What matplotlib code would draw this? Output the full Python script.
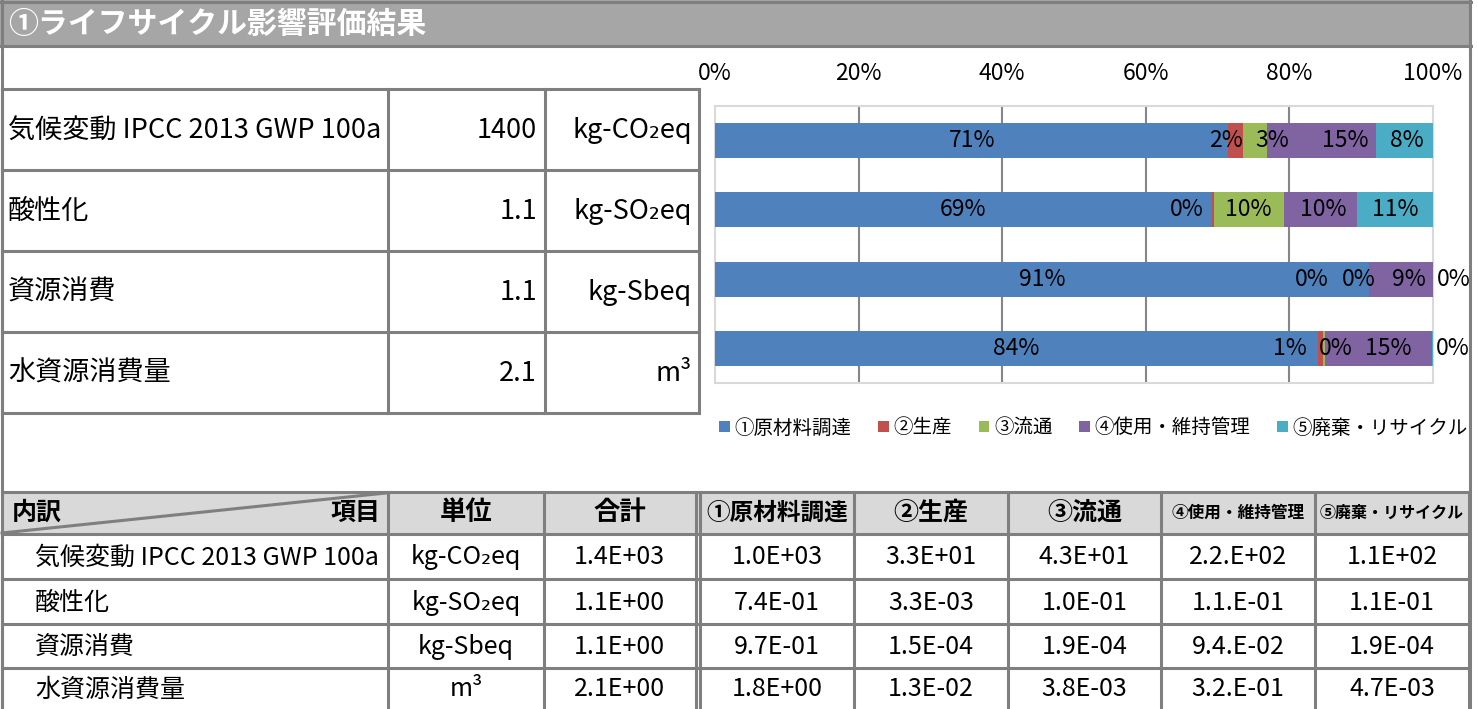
import numpy as np
import matplotlib
matplotlib.use('Agg')
import matplotlib.pyplot as plt
from matplotlib.patches import Rectangle

plt.rcParams['font.family'] = ['Noto Sans CJK JP', 'DejaVu Sans']

#   DATA
title = '①ライフサイクル影響評価結果'
categories = ['気候変動 IPCC 2013 GWP 100a', '酸性化', '資源消費', '水資源消費量']
totals_short = ['1400', '1.1', '1.1', '2.1']
units = ['kg-CO₂eq', 'kg-SO₂eq', 'kg-Sbeq', 'm³']
stages = ['①原材料調達', '②生産', '③流通', '④使用・維持管理', '⑤廃棄・リサイクル']

# share of each stage per category (%)
shares = np.array([
    [71.4, 2.2, 3.3, 15.1, 8.0],
    [69.2, 0.3, 9.8, 10.1, 10.6],
    [91.1, 0.02, 0.02, 8.84, 0.02],
    [84.0, 0.7, 0.2, 14.9, 0.2],
])

# breakdown table
table_head = ['内訳', '項目', '単位', '合計']
totals_sci = ['1.4E+03', '1.1E+00', '1.1E+00', '2.1E+00']
breakdown = [
    ['1.0E+03', '3.3E+01', '4.3E+01', '2.2.E+02', '1.1E+02'],
    ['7.4E-01', '3.3E-03', '1.0E-01', '1.1.E-01', '1.1E-01'],
    ['9.7E-01', '1.5E-04', '1.9E-04', '9.4.E-02', '1.9E-04'],
    ['1.8E+00', '1.3E-02', '3.8E-03', '3.2.E-01', '4.7E-03'],
]

#   STYLE / LAYOUT
W, H = 1478, 709
colors = ['#4F81BD', '#C0504D', '#9BBB59', '#8064A2', '#4BACC6']
line_c = '#7f7f7f'
lw = 2.2
# label nudges from segment centres, in % of axis
label_nudge = [
    [0.1, -1.4, 2.35, 3.35, 0.4],
    [0.0, -3.65, -0.1, 0.35, 0.0],
    [0.0, -8.0, -1.5, 1.1, 2.9],
    [0.0, -4.35, 1.6, 1.35, 2.9],
]

fig = plt.figure(figsize=(W / 100, H / 100), dpi=100)
ax = fig.add_axes([0, 0, 1, 1])
ax.set_xlim(0, W)
ax.set_ylim(H, 0)
ax.axis('off')

#   HEADER BAR
ax.add_patch(Rectangle((0, 0), 1471, 46, facecolor='#a6a6a6', edgecolor='none'))
ax.plot([0, 1471], [1.5, 1.5], color=line_c, lw=lw)
ax.plot([0, 1471], [45.5, 45.5], color=line_c, lw=lw)
ax.text(8, 24, title, color='white', fontsize=21.5, fontweight='bold', ha='left', va='center')

# outer frame
ax.plot([1.5, 1.5], [0, H], color=line_c, lw=lw)
ax.plot([1470, 1470], [0, H], color=line_c, lw=lw)

#   TOP TABLE
tx = [1.5, 388, 545, 698.5]
ty = [89, 170, 251, 332, 413]
for x in tx:
    ax.plot([x, x], [ty[0], ty[-1]], color=line_c, lw=lw)
for y in ty:
    ax.plot([tx[0], tx[-1]], [y, y], color=line_c, lw=lw)
for i, cat in enumerate(categories):
    yc = (ty[i] + ty[i + 1]) / 2 + 1
    ax.text(8, yc, cat, fontsize=19.5, ha='left', va='center')
    ax.text(537, yc, totals_short[i], fontsize=19.5, ha='right', va='center')
    ax.text(692, yc, units[i], fontsize=19.5, ha='right', va='center')

#   BOTTOM TABLE
bx = [1.5, 388, 544, 700, 854, 1008, 1161, 1315, 1469]
by = [492, 534, 579, 624, 668, 712]
ax.add_patch(Rectangle((bx[0], by[0]), bx[-1] - bx[0], by[1] - by[0],
                       facecolor='#d9d9d9', edgecolor='none'))
for x in bx:
    ax.plot([x, x], [by[0], H], color=line_c, lw=lw)
ax.plot([695.5, 695.5], [by[0], H], color=line_c, lw=lw)
for y in by[:-1]:
    ax.plot([bx[0], bx[-1]], [y, y], color=line_c, lw=lw)
ax.plot([2, 386], [533, 493], color=line_c, lw=lw)

hy = (by[0] + by[1]) / 2
ax.text(12, hy, table_head[0], fontsize=18, fontweight='bold', ha='left', va='center')
ax.text(381, hy, table_head[1], fontsize=18, fontweight='bold', ha='right', va='center')
ax.text((bx[1] + bx[2]) / 2, hy, table_head[2], fontsize=19, fontweight='bold', ha='center', va='center')
ax.text((bx[2] + 695.5) / 2, hy, table_head[3], fontsize=19, fontweight='bold', ha='center', va='center')
head_sizes = [17, 18, 18, 12, 11.5]
for j, st in enumerate(stages):
    ax.text((bx[3 + j] + bx[4 + j]) / 2, hy, st, fontsize=head_sizes[j],
            fontweight='bold', ha='center', va='center')

for i, cat in enumerate(categories):
    yc = (by[i + 1] + min(by[i + 2], H)) / 2 + 1
    ax.text(35, yc, cat, fontsize=18, ha='left', va='center')
    ax.text((bx[1] + bx[2]) / 2, yc, units[i], fontsize=18, ha='center', va='center')
    ax.text((bx[2] + 695.5) / 2, yc, totals_sci[i], fontsize=18, ha='center', va='center')
    for j, v in enumerate(breakdown[i]):
        ax.text((bx[3 + j] + bx[4 + j]) / 2, yc, v, fontsize=18, ha='center', va='center')

#   STACKED BAR CHART
axb = fig.add_axes([715 / W, 1 - 383 / H, 718 / W, 277 / H])
ypos = np.arange(len(categories))
left = np.zeros(len(categories))
handles = []
for j, st in enumerate(stages):
    h = axb.barh(ypos, shares[:, j], left=left, height=0.505, color=colors[j],
                 label=st, zorder=3)
    handles.append(h)
    for i in range(len(categories)):
        xc = left[i] + shares[i, j] / 2 + label_nudge[i][j]
        axb.text(xc, ypos[i], f'{shares[i, j]:.0f}%', fontsize=16.5, ha='center',
                 va='center', zorder=4, clip_on=False)
    left = left + shares[:, j]

axb.set_xlim(0, 100)
axb.set_ylim(3.5, -0.5)
ticks = np.arange(0, 101, 20)
axb.set_xticks(ticks)
axb.set_xticklabels([f'{t}%' for t in ticks], fontsize=16.5)
axb.xaxis.tick_top()
axb.tick_params(axis='x', length=0, pad=15)
axb.set_yticks([])
for t in ticks[1:-1]:
    axb.axvline(t, color='#868686', lw=1.5, zorder=1)
for s in axb.spines.values():
    s.set_color('#d9d9d9')
    s.set_linewidth(1.5)

fig.legend(handles=handles, labels=stages, loc='center left',
           bbox_to_anchor=(719 / W, 1 - 428 / H), ncol=5, frameon=False,
           fontsize=14, handlelength=0.55, handleheight=0.55, handletextpad=0.26,
           columnspacing=1.35, borderpad=0, borderaxespad=0)

fig.savefig('out.png', dpi=100)
